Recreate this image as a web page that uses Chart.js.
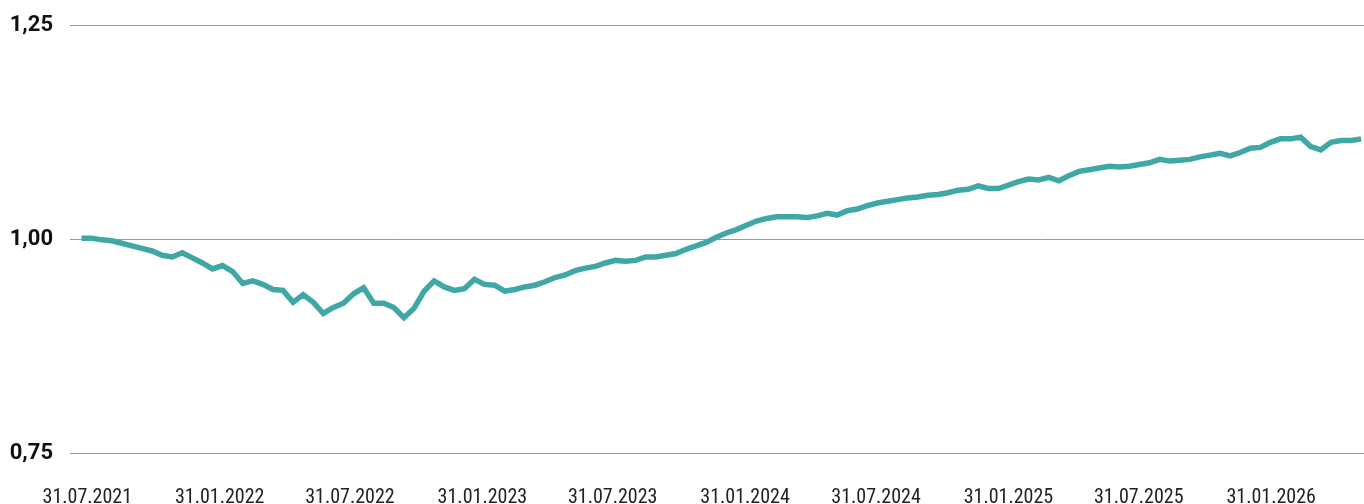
<!DOCTYPE html>
<html>
<head>
<meta charset="utf-8">
<script src="https://cdn.jsdelivr.net/npm/chart.js@4"></script>
<style>
  body { margin: 0; background: #fff; }
  #wrap { width: 1364px; height: 504px; }
</style>
</head>
<body>
<div id="wrap"><canvas id="chart"></canvas></div>
<script>
// fortnightly observation dates
const dates = [
  "23.07.2021","06.08.2021","20.08.2021","03.09.2021","17.09.2021","01.10.2021","15.10.2021","29.10.2021","12.11.2021","26.11.2021","10.12.2021","24.12.2021",
  "07.01.2022","21.01.2022","04.02.2022","18.02.2022","04.03.2022","18.03.2022","01.04.2022","15.04.2022","29.04.2022","13.05.2022","27.05.2022","10.06.2022","24.06.2022",
  "08.07.2022","22.07.2022","05.08.2022","19.08.2022","02.09.2022","16.09.2022","30.09.2022","14.10.2022","28.10.2022","11.11.2022","25.11.2022","09.12.2022","23.12.2022",
  "06.01.2023","20.01.2023","03.02.2023","17.02.2023","03.03.2023","17.03.2023","31.03.2023","14.04.2023","28.04.2023","12.05.2023","26.05.2023","09.06.2023","23.06.2023",
  "07.07.2023","21.07.2023","04.08.2023","18.08.2023","01.09.2023","15.09.2023","29.09.2023","13.10.2023","27.10.2023","10.11.2023","24.11.2023","08.12.2023","22.12.2023",
  "05.01.2024","19.01.2024","02.02.2024","16.02.2024","01.03.2024","15.03.2024","29.03.2024","12.04.2024","26.04.2024","10.05.2024","24.05.2024","07.06.2024","21.06.2024",
  "05.07.2024","19.07.2024","02.08.2024","16.08.2024","30.08.2024","13.09.2024","27.09.2024","11.10.2024","25.10.2024","08.11.2024","22.11.2024","06.12.2024","20.12.2024",
  "03.01.2025","17.01.2025","31.01.2025","14.02.2025","28.02.2025","14.03.2025","28.03.2025","11.04.2025","25.04.2025","09.05.2025","23.05.2025","06.06.2025","20.06.2025",
  "04.07.2025","18.07.2025","01.08.2025","15.08.2025","29.08.2025","12.09.2025","26.09.2025","10.10.2025","24.10.2025","07.11.2025","21.11.2025","05.12.2025","19.12.2025",
  "02.01.2026","16.01.2026","30.01.2026","13.02.2026","27.02.2026","13.03.2026","27.03.2026","10.04.2026","24.04.2026","08.05.2026","22.05.2026","05.06.2026"
];

const values = [
  1.001, 1.001, 0.999, 0.998, 0.995, 0.992, 0.989, 0.986, 0.981, 0.979, 0.984, 0.978,
  0.972, 0.965, 0.969, 0.962, 0.948, 0.951, 0.947, 0.941, 0.940, 0.926, 0.935, 0.926, 0.913,
  0.920, 0.925, 0.936, 0.943, 0.925, 0.925, 0.920, 0.908, 0.919, 0.939, 0.951, 0.944, 0.940,
  0.942, 0.953, 0.947, 0.946, 0.939, 0.941, 0.944, 0.946, 0.950, 0.955, 0.958, 0.963, 0.966,
  0.968, 0.972, 0.975, 0.974, 0.975, 0.979, 0.979, 0.981, 0.983, 0.988, 0.992, 0.996, 1.002,
  1.007, 1.011, 1.016, 1.021, 1.024, 1.026, 1.026, 1.026, 1.025, 1.027, 1.030, 1.028, 1.033,
  1.035, 1.039, 1.042, 1.044, 1.046, 1.048, 1.049, 1.051, 1.052, 1.054, 1.057, 1.058, 1.062,
  1.059, 1.059, 1.063, 1.067, 1.070, 1.069, 1.072, 1.068, 1.074, 1.079, 1.081, 1.083, 1.085,
  1.084, 1.085, 1.087, 1.089, 1.093, 1.091, 1.092, 1.093, 1.096, 1.098, 1.100, 1.097, 1.101,
  1.106, 1.107, 1.113, 1.117, 1.117, 1.119, 1.108, 1.104, 1.113, 1.115, 1.115, 1.117
];

const tickLabels = [
  "31.07.2021","31.01.2022","31.07.2022","31.01.2023","31.07.2023",
  "31.01.2024","31.07.2024","31.01.2025","31.07.2025","31.01.2026"
];

const yTicks = [0.75, 1.00, 1.25];

// days since 31.07.2021
const origin = Date.UTC(2021, 6, 31);
function dayOf(s) {
  const p = s.split(".");
  return Math.round((Date.UTC(+p[2], +p[1] - 1, +p[0]) - origin) / 86400000);
}

const points = dates.map((d, i) => ({ x: dayOf(d), y: values[i] }));

const ctx = document.getElementById("chart").getContext("2d");
new Chart(ctx, {
  type: "line",
  data: {
    datasets: [
      {
        data: points,
        borderColor: "#3fa8a6",
        borderWidth: 5.5,
        pointRadius: 0,
        tension: 0,
        fill: false,
      },
    ],
  },
  options: {
    responsive: true,
    maintainAspectRatio: false,
    animation: false,
    layout: { padding: { top: 25, right: 0, left: 0, bottom: 0 } },
    plugins: {
      legend: { display: false },
      tooltip: { enabled: false },
    },
    scales: {
      x: {
        type: "linear",
        min: -24,
        max: 1774,
        grid: { display: false },
        border: { display: false },
        afterBuildTicks: (scale) => {
          scale.ticks = tickLabels.map((t) => ({ value: dayOf(t) }));
        },
        afterFit: (scale) => {
          scale.height = 51;
          scale.paddingLeft = 0;
          scale.paddingRight = 0;
        },
        ticks: {
          autoSkip: false,
          maxRotation: 0,
          padding: 25,
          color: "#222",
          font: {
            family: "'Roboto Condensed', 'Liberation Sans Narrow', 'DejaVu Sans Condensed', Roboto",
            size: 20,
          },
          callback: (v) => {
            const t = tickLabels.find((l) => dayOf(l) === v);
            return t || "";
          },
        },
      },
      y: {
        min: 0.75,
        max: 1.25,
        grid: { color: "#999", lineWidth: 1, drawTicks: false },
        border: { display: false },
        afterBuildTicks: (scale) => {
          scale.ticks = yTicks.map((v) => ({ value: v }));
        },
        afterFit: (scale) => {
          scale.width = 70;
          scale.paddingTop = 0;
          scale.paddingBottom = 0;
        },
        ticks: {
          padding: 17,
          color: "#111",
          font: { family: "Roboto", size: 22, weight: "bold" },
          callback: (v) => v.toFixed(2).replace(".", ","),
        },
      },
    },
  },
});
</script>
</body>
</html>
